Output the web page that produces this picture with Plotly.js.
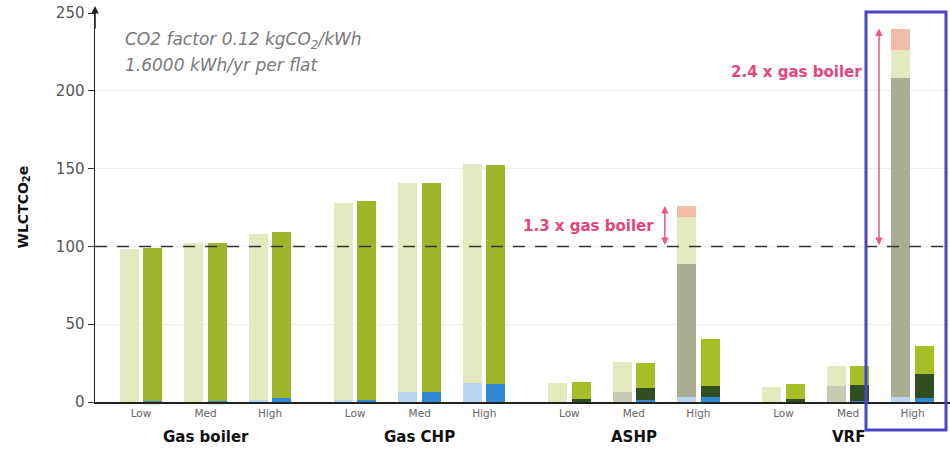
<!DOCTYPE html>
<html><head><meta charset="utf-8">
<script src="https://cdn.plot.ly/plotly-3.0.1.min.js"></script>
<style>html,body{margin:0;padding:0;background:#fff}#chart{width:950px;height:449px}</style>
</head><body><div id="chart"></div>
<script>
const groups = ['Gas boiler', 'Gas CHP', 'ASHP', 'VRF'];
const levels = ['Low', 'Med', 'High'];

// Light (pale) bars, stacked bottom -> top, order: GB L/M/H, CHP L/M/H, ASHP L/M/H, VRF L/M/H
const lightBlue   = [0, 0, 1,   1, 6.6, 12.4,   0, 0, 3,      0, 0, 3];
const lightRefrig = [0, 0, 0,   0, 0, 0,        0, 6.6, 86,   0, 10.3, 205];
const lightGreen  = [98.5, 102.5, 107,   127, 134, 140.5,   12.4, 19, 30,   9.8, 13, 18];
const lightPink   = [0, 0, 0,   0, 0, 0,        0, 0, 7,      0, 0, 14];

// Dark bars, stacked bottom -> top
const darkBlue  = [0.8, 0.8, 2.5,   1.5, 6.5, 11.5,   0, 1.5, 3.5,   0, 0.8, 2.4];
const darkGreen = [0, 0, 0,         0, 0, 0,          2, 7.5, 7,     2, 10, 15.6];
const darkOlive = [98.2, 101.7, 106.5,   127.5, 134.5, 141,   10.9, 16, 30,   9.6, 12.5, 18.2];

const yTicks = [0, 50, 100, 150, 200, 250];
const gasBoilerRef = 100;
const notes = ['CO2 factor 0.12 kgCO<sub>2</sub>/kWh', '1.6000 kWh/yr per flat'];
const multText = ['1.3 x gas boiler', '2.4 x gas boiler'];
const multGroups = ['ASHP', 'VRF'];

// ---- layout helpers ----
const GSTEP = 3.32, OFF = 0.182, BW = 0.295;
const pos = [], tickText = [];
groups.forEach((g, gi) => levels.forEach((l, li) => {
  pos.push(gi * GSTEP + li); tickText.push(l);
}));
const xL = pos.map(p => p - OFF), xD = pos.map(p => p + OFF);

function bar(x, y, color, name) {
  return {type: 'bar', x: x, y: y, width: BW, name: name, showlegend: false,
    marker: {color: color, line: {width: 0}}, hoverinfo: 'y'};
}
const refrigColors = pos.map((p, i) => (i % 3 === 2) ? '#ABAD92' : '#C8CAB5');
const oliveColors = pos.map((p, i) => (i < 6) ? '#A0B42A' : '#A8BE26');
const traces = [
  bar(xL, lightBlue, '#BCD5EE', 'light blue'),
  bar(xL, lightRefrig, refrigColors, 'refrigerant'),
  bar(xL, lightGreen, '#E4E9C0', 'light green'),
  bar(xL, lightPink, '#F2BCA8', 'pink'),
  bar(xD, darkBlue, '#2E87D0', 'blue'),
  bar(xD, darkGreen, '#2F4E21', 'dark green'),
  bar(xD, darkOlive, oliveColors, 'olive'),
];

const lightTotal = i => lightBlue[i] + lightRefrig[i] + lightGreen[i] + lightPink[i];

const font = 'DejaVu Sans';
const annotations = [];
// group labels
groups.forEach((g, gi) => annotations.push({
  text: '<b>' + g + '</b>', xref: 'x', yref: 'paper', x: gi * GSTEP + 1, y: -35 / 389,
  yanchor: 'middle', showarrow: false, font: {family: font, size: 15, color: '#111'}
}));
// y-axis title
annotations.push({text: '<b>WLCTCO<sub>2</sub>e</b>', xref: 'paper', yref: 'paper', x: -72 / 855, y: 0.5,
  textangle: -90, showarrow: false, xanchor: 'center', yanchor: 'middle', font: {family: font, size: 14, color: '#111'}});
// y axis arrow
annotations.push({text: '', xref: 'paper', yref: 'paper', x: 0, y: 1 + 7 / 389, ax: 0, ay: 24,
  showarrow: true, arrowhead: 2, arrowsize: 1, arrowwidth: 1.5, arrowcolor: '#222'});
// notes
notes.forEach((t, i) => annotations.push({text: '<i>' + t + '</i>', xref: 'paper', yref: 'paper',
  x: 28 / 855, y: (402 - (40 + 25 * i)) / 389, xanchor: 'left', yanchor: 'middle', showarrow: false,
  font: {family: font, size: 17, color: '#7a7a7a'}}));
// multiple arrows + labels
const labelY = [113, 212];
const labelShift = [-9, -15];
multGroups.forEach((g, k) => {
  const gi = groups.indexOf(g), i = gi * 3 + 2;
  const ax = pos[i] - 0.52;
  annotations.push({text: '', xref: 'x', yref: 'y', axref: 'x', ayref: 'y', x: ax, y: lightTotal(i),
    ax: ax, ay: gasBoilerRef, showarrow: true, arrowside: 'end+start', arrowhead: 2, arrowsize: 1,
    arrowwidth: 1.5, arrowcolor: '#E8578A'});
  annotations.push({text: '<b>' + multText[k] + '</b>', xref: 'x', yref: 'y', x: ax, y: labelY[k],
    xanchor: 'right', yanchor: 'middle', xshift: labelShift[k], showarrow: false,
    font: {family: font, size: 15, color: '#E5457D'}});
});

const shapes = [
  {type: 'line', xref: 'paper', yref: 'y', x0: 0, x1: 1, y0: gasBoilerRef, y1: gasBoilerRef,
    line: {color: '#333', width: 1.5, dash: '12px,10px'}},
  {type: 'rect', xref: 'paper', yref: 'paper', x0: 771 / 855, x1: 851 / 855, y0: -28 / 389, y1: 390 / 389,
    line: {color: '#4A45C6', width: 3}, fillcolor: 'rgba(0,0,0,0)'}
];

const layout = {
  width: 950, height: 449, margin: {l: 95, r: 0, t: 13, b: 47},
  paper_bgcolor: '#fff', plot_bgcolor: '#fff', barmode: 'stack', bargap: 0,
  font: {family: font},
  xaxis: {range: [-0.713, 12.54], tickvals: pos, ticktext: tickText, ticks: '',
    showgrid: false, zeroline: false, showline: true, linecolor: '#222', linewidth: 2,
    tickfont: {family: font, size: 10.5, color: '#666'}, fixedrange: true},
  yaxis: {range: [0, 250], tickvals: yTicks, ticks: 'outside', ticklen: 6, tickcolor: '#333', tickwidth: 1,
    showline: true, linecolor: '#222', linewidth: 1.5, showgrid: true, gridcolor: '#EEEEEE',
    zeroline: false, tickfont: {family: font, size: 15, color: '#555'}, fixedrange: true},
  annotations: annotations, shapes: shapes, showlegend: false
};
Plotly.newPlot('chart', traces, layout, {displayModeBar: false, staticPlot: true});
</script></body></html>
